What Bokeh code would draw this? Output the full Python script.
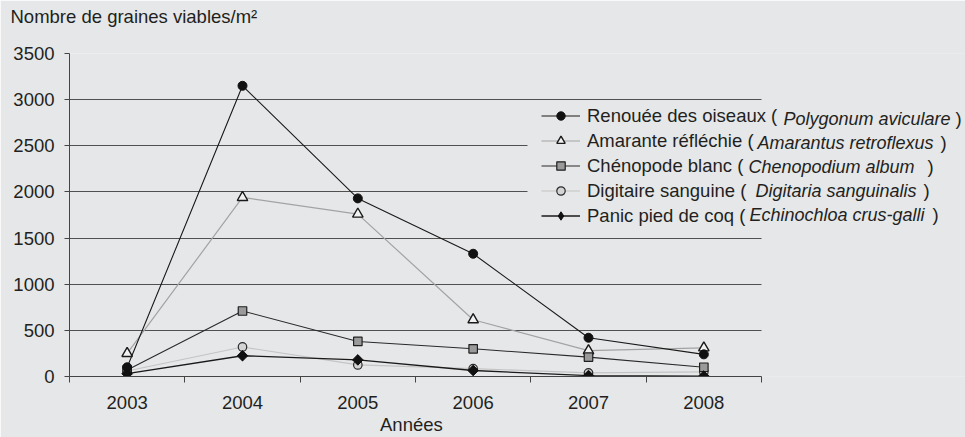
import math
from bokeh.plotting import figure
from bokeh.models import Range1d, FixedTicker, Legend, LegendItem, Label, BoxAnnotation, Title
from bokeh.embed import file_html
from bokeh.resources import INLINE

# ---------------- data ----------------
years = [2003, 2004, 2005, 2006, 2007, 2008]
year_labels = ["2003", "2004", "2005", "2006", "2007", "2008"]
y_ticks = [0, 500, 1000, 1500, 2000, 2500, 3000, 3500]

renouee = [100, 3150, 1930, 1330, 420, 240]
amarante = [250, 1940, 1760, 615, 280, 310]
chenopode = [70, 710, 380, 300, 210, 100]
digitaire = [60, 320, 125, 85, 40, 50]
panic = [30, 225, 180, 65, 10, 5]

names_common = ["Renouée des oiseaux (", "Amarante réfléchie (", "Chénopode blanc (",
                "Digitaire sanguine (", "Panic pied de coq ("]
names_latin = ["Polygonum aviculare", "Amarantus retroflexus", "Chenopodium album",
               "Digitaria sanguinalis", "Echinochloa crus-galli"]

title_text = "Nombre de graines viables/m²"
xlabel_text = "Années"

# ---------------- style ----------------
BG = "#e6e7e9"
TXT = "#231f20"
FONT = "Liberation Sans"
FS = "18.5px"

W, H = 965, 437
# plotted chart area (page px): x 69..761, y 53..376
CL, CR, CT, CB = 69, 761, 53, 376
ML, MR, MT, MB = CL, 0, CT, H - CB
FW = W - ML - MR
FH = CB - CT

x0, x1 = years[0] - 0.5, years[-1] + 0.5
px_per_year = (CR - CL) / (x1 - x0)
x_end = x1 + (FW - (CR - CL)) / px_per_year
px_per_val = FH / (y_ticks[-1] - y_ticks[0])

p = figure(width=W, height=H, output_backend="svg", toolbar_location=None,
           x_range=Range1d(x0, x_end),
           y_range=Range1d(y_ticks[0], y_ticks[-1]),
           min_border_left=ML, min_border_right=MR, min_border_top=MT, min_border_bottom=MB)
p.background_fill_color = BG
p.border_fill_color = BG
p.outline_line_color = None

# title (top-left)
p.title.text = title_text
p.title.align = "left"
p.title.offset = 10 - CL
p.title.standoff = 0
p.title.vertical_align = "top"
p.title.padding = dict(top=0, bottom=25, left=0, right=0)
p.title.text_font = FONT
p.title.text_font_size = FS
p.title.text_font_style = "normal"
p.title.text_color = TXT

# grid
p.xgrid.visible = False
p.ygrid.ticker = FixedTicker(ticks=y_ticks)
p.ygrid.grid_line_color = "#505050"
p.ygrid.grid_line_width = 1

# y axis
p.yaxis.ticker = FixedTicker(ticks=y_ticks)
p.yaxis.axis_line_color = "#444444"
p.yaxis.major_tick_line_color = "#444444"
p.yaxis.major_tick_out = 5
p.yaxis.major_tick_in = 0
p.yaxis.minor_tick_line_color = None
p.yaxis.major_label_standoff = 10
p.yaxis.major_label_text_font = FONT
p.yaxis.major_label_text_font_size = FS
p.yaxis.major_label_text_color = TXT

# x axis
bounds = [y - 0.5 for y in years] + [years[-1] + 0.5]
p.xaxis.bounds = (x0, x1)
p.xaxis.ticker = FixedTicker(ticks=years, minor_ticks=bounds)
p.xaxis.major_label_overrides = {y: s for y, s in zip(years, year_labels)}
p.xaxis.axis_line_color = "#444444"
p.xaxis.major_tick_line_color = None
p.xaxis.major_tick_out = 0
p.xaxis.major_tick_in = 0
p.xaxis.minor_tick_line_color = "#444444"
p.xaxis.minor_tick_out = 6
p.xaxis.minor_tick_in = 0
p.xaxis.major_label_standoff = 13
p.xaxis.major_label_text_font = FONT
p.xaxis.major_label_text_font_size = FS
p.xaxis.major_label_text_color = TXT

# x label below the axis, centred on the plotted area
xlabel_w = 63
p.add_layout(Title(text=xlabel_text, align="left", offset=(CR - CL) / 2 - 4 - xlabel_w / 2,
                   standoff=0, vertical_align="bottom", text_font=FONT, text_font_size=FS,
                   text_font_style="normal", text_color=TXT), "below")

# masks: hide gridlines right of the chart and behind the legend
p.add_layout(BoxAnnotation(left=x1, right=x_end, bottom=y_ticks[0], top=y_ticks[-1],
                           fill_color=BG, fill_alpha=1, line_color=None, level="underlay"))
p.add_layout(BoxAnnotation(left=x0 + (527 - CL) / px_per_year, right=x1,
                           top=y_ticks[-1] - (104 - CT) / px_per_val,
                           bottom=y_ticks[-1] - (228 - CT) / px_per_val,
                           fill_color=BG, fill_alpha=1, line_color=None, level="underlay"))

# series
l_dig = p.line(years, digitaire, line_color="#c4c4c4", line_width=1.2)
l_ama = p.line(years, amarante, line_color="#a3a3a3", line_width=1.2)
l_che = p.line(years, chenopode, line_color="#2a2a2a", line_width=1.1)
l_pan = p.line(years, panic, line_color="#1a1a1a", line_width=1.3)
l_ren = p.line(years, renouee, line_color="#1a1a1a", line_width=1.1)

s_dig = p.scatter(years, digitaire, marker="circle", size=8.5, fill_color="#d4d4d4",
                  line_color="#2a2a2a", line_width=1.2)
s_ama = p.scatter(years, amarante, marker="triangle", size=10.5, fill_color="#f2f2f2",
                  line_color="#1a1a1a", line_width=1.4)
s_che = p.scatter(years, chenopode, marker="square", size=8.5, fill_color="#9a9a9a",
                  line_color="#1f1f1f", line_width=1.2)
# diamond used for the legend swatch (legend swatches ignore marker angle);
# it sits fully inside the rotated-square marker drawn on top of it
s_pan_key = p.scatter(years, panic, marker="diamond", size=9.5, fill_color="#111111",
                      line_color="#111111", line_width=1)
s_pan = p.scatter(years, panic, marker="square", size=7.5, angle=math.pi / 4,
                  fill_color="#111111", line_color="#111111", line_width=1)
s_ren = p.scatter(years, renouee, marker="circle", size=9, fill_color="#111111",
                  line_color="#111111", line_width=1)

pairs = [(l_ren, s_ren), (l_ama, s_ama), (l_che, s_che), (l_dig, s_dig), (l_pan, s_pan_key)]
items = [LegendItem(label=n, renderers=list(r)) for n, r in zip(names_common, pairs)]

# legend geometry (page px of the reference)
row_h, row_gap, pad = 21, 3, 2
first_row_center = 118
legend_top = first_row_center - pad - row_h / 2
legend_h = 5 * row_h + 4 * row_gap + 2 * pad
legend = Legend(items=items,
                location=(543 - pad - CL, CB - (legend_top + legend_h)),
                glyph_width=39, glyph_height=row_h, label_height=row_h, spacing=row_gap,
                padding=pad, margin=0, label_standoff=7,
                border_line_color=None, background_fill_alpha=0,
                label_text_font=FONT, label_text_font_size=FS, label_text_color=TXT)
p.add_layout(legend)

latin_x = [783, 757, 748, 755, 749]
close_x = [955, 940, 927, 923, 932]
for i, (nm, lx, cx) in enumerate(zip(names_latin, latin_x, close_x)):
    yc = CB - (first_row_center + i * (row_h + row_gap))
    p.add_layout(Label(x=lx - CL, y=yc, x_units="screen", y_units="screen",
                       text=nm, text_font=FONT, text_font_size="18px",
                       text_font_style="italic", text_color=TXT, text_baseline="middle"))
    p.add_layout(Label(x=cx - CL, y=yc, x_units="screen", y_units="screen",
                       text=")", text_font=FONT, text_font_size=FS,
                       text_color=TXT, text_baseline="middle"))

open("out.html", "w").write(file_html(p, INLINE))
